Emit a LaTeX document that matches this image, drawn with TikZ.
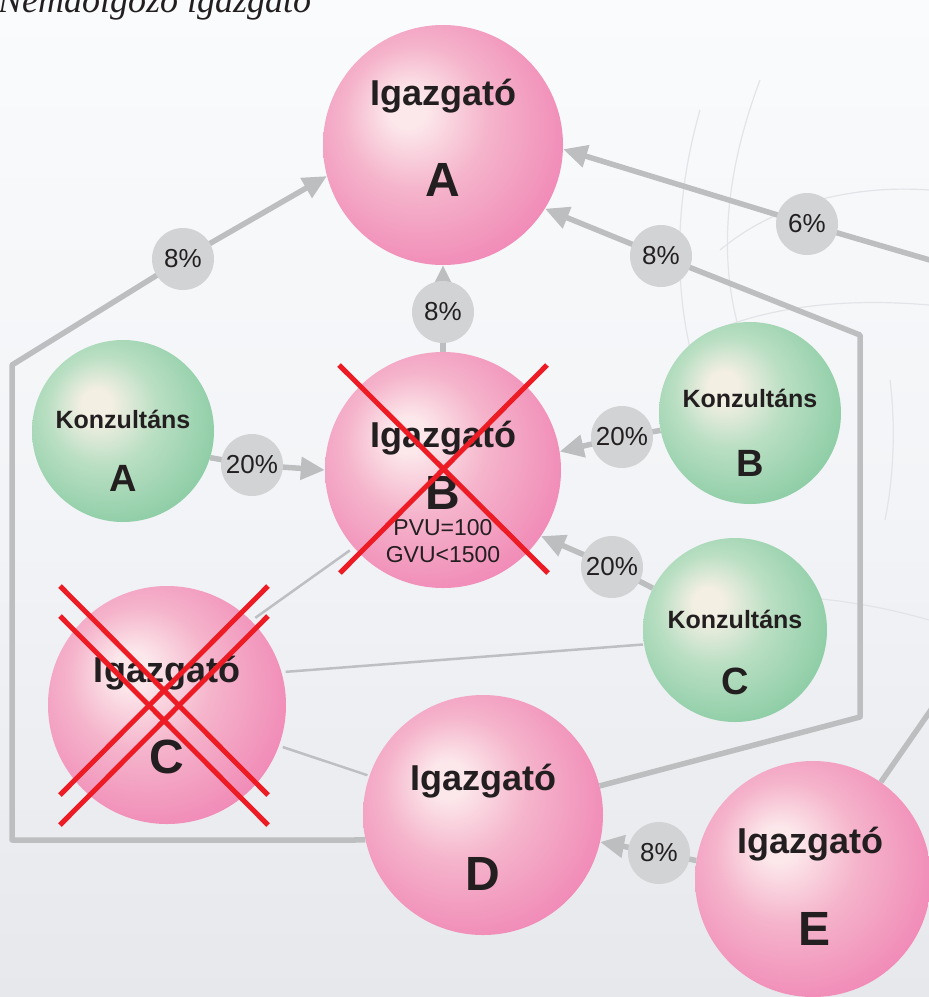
\documentclass[tikz,border=0pt]{standalone}
\usepackage{fontspec}
\setmainfont{Liberation Sans}
\newfontfamily\titlefont{Liberation Serif}
\usetikzlibrary{arrows.meta,calc}
\definecolor{conncol}{HTML}{BCBEC0}
\definecolor{thincol}{HTML}{BDBFC2}
\definecolor{lblcol}{HTML}{D1D3D4}
\definecolor{txtcol}{HTML}{231F20}
\definecolor{redx}{HTML}{ED1C24}
\definecolor{pkhi}{HTML}{FCE7EB}
\definecolor{pkmid}{HTML}{F5B4CB}
\definecolor{pkout}{HTML}{EF7CB0}
\definecolor{gnhi}{HTML}{F4EFE3}
\definecolor{gnmid}{HTML}{BADFC3}
\definecolor{gnout}{HTML}{7EC79C}
\definecolor{bgtop}{HTML}{FAFBFC}
\definecolor{bgmid}{HTML}{F2F4F7}
\definecolor{bgbot}{HTML}{E6E8EB}
\definecolor{sketch}{HTML}{E3E4E8}
\pgfdeclareradialshading{pinkball}{\pgfpoint{-8bp}{8bp}}{color(0bp)=(pkhi); color(4bp)=(pkhi); color(15bp)=(pkmid); color(35bp)=(pkout); color(50bp)=(pkout)}
\pgfdeclareradialshading{greenball}{\pgfpoint{-8bp}{8bp}}{color(0bp)=(gnhi); color(4bp)=(gnhi); color(15bp)=(gnmid); color(35bp)=(gnout); color(50bp)=(gnout)}
\pgfdeclarelayer{sky}
\pgfdeclarelayer{lines}
\pgfsetlayers{sky,lines,main}
\tikzset{
  pinkb/.style={circle, minimum size=240pt, inner sep=0pt, shading=pinkball},
  greenb/.style={circle, minimum size=182pt, inner sep=0pt, shading=greenball},
  wbig/.style={anchor=base, inner sep=0pt, text=txtcol, font=\fontsize{36}{36}\selectfont\bfseries},
  lbig/.style={anchor=base, inner sep=0pt, text=txtcol, font=\fontsize{48}{48}\selectfont\bfseries},
  wsm/.style={anchor=base, inner sep=0pt, text=txtcol, font=\fontsize{25}{25}\selectfont\bfseries},
  lsm/.style={anchor=base, inner sep=0pt, text=txtcol, font=\fontsize{38}{38}\selectfont\bfseries},
  vtxt/.style={anchor=base, inner sep=0pt, text=txtcol, font=\fontsize{23}{23}\selectfont},
  lbl/.style={circle, fill=lblcol, minimum size=62pt, inner sep=0pt, text=txtcol, font=\fontsize{26}{26}\selectfont},
  conn/.style={draw=conncol, line width=5.5pt, line join=round},
  arr/.style={-{Triangle[length=24pt,width=22pt]}},
  thin/.style={draw=thincol, line width=2.5pt},
  cross/.style={draw=redx, line width=5pt},
}
\begin{document}
\begin{tikzpicture}[x=1pt,y=-1pt]
\useasboundingbox (0,0) rectangle (929,997);
\clip (0,0) rectangle (929,997);
\begin{pgfonlayer}{sky}
\fill[top color=bgtop, bottom color=bgbot, middle color=bgmid] (0,0) rectangle (929,997);
\begin{scope}[draw=sketch, line width=1.2pt]
\draw (700,110) .. controls (660,250) and (680,390) .. (750,480);
\draw (760,80) .. controls (715,200) and (715,310) .. (770,400);
\draw (720,250) .. controls (780,200) and (860,185) .. (929,190);
\draw (715,330) .. controls (790,300) and (870,300) .. (929,305);
\draw (890,380) .. controls (895,420) and (895,470) .. (885,520);
\draw (700,600) .. controls (780,590) and (860,600) .. (929,620);
\end{scope}
\end{pgfonlayer}
% title (cut off at the top edge, as in the reference)
\node[anchor=base west, inner sep=0pt, text=txtcol, font=\titlefont\itshape\fontsize{36}{36}\selectfont] (title) at (-2,12) {Nemdolgozó igazgató};
% main balls
\node[pinkb] (A) at (443,145) {};
\node[wbig] (Aw) at ($(A)+(0,-40)$) {Igazgató};
\node[lbig] (Al) at ($(A)+(0,51)$) {A};
\node[pinkb, minimum size=236pt] (B) at (443,470) {};
\node[wbig] (Bw) at ($(B)+(0,-23)$) {Igazgató};
\node[lbig] (Bl) at ($(B)+(0,39)$) {B};
\node[vtxt] (Bv1) at ($(B)+(0,65)$) {PVU=100};
\node[vtxt] (Bv2) at ($(B)+(0,92)$) {GVU<1500};
\node[pinkb, minimum size=238pt] (C) at (167,705) {};
\node[wbig] (Cw) at ($(C)+(0,-23)$) {Igazgató};
\node[lbig] (Cl) at ($(C)+(0,68)$) {C};
\node[pinkb] (D) at (483,815) {};
\node[wbig] (Dw) at ($(D)+(0,-25)$) {Igazgató};
\node[lbig] (Dl) at ($(D)+(0,75)$) {D};
\node[pinkb, minimum size=236pt] (E) at (813,879) {};
\node[wbig] (Ew) at ($(E)+(-3,-26)$) {Igazgató};
\node[lbig] (El) at ($(E)+(2,66)$) {E};
\node[greenb] (KA) at (123,431) {};
\node[wsm] (KAw) at ($(KA)+(0,-3)$) {Konzultáns};
\node[lsm] (KAl) at ($(KA)+(0,60)$) {A};
\node[greenb] (KB) at (750,413) {};
\node[wsm] (KBw) at ($(KB)+(0,-6)$) {Konzultáns};
\node[lsm] (KBl) at ($(KB)+(0,63)$) {B};
\node[greenb, minimum size=184pt] (KC) at (735,630) {};
\node[wsm] (KCw) at ($(KC)+(0,-2)$) {Konzultáns};
\node[lsm] (KCl) at ($(KC)+(0,64)$) {C};
% labels
\node[lbl] (L1) at (183,259) {8\%};
\node[lbl] (L2) at (443,312) {8\%};
\node[lbl] (L3) at (661,256) {8\%};
\node[lbl] (L4) at (807,224) {6\%};
\node[lbl] (L5) at (252,465) {20\%};
\node[lbl] (L6) at (622,437) {20\%};
\node[lbl] (L7) at (612,567) {20\%};
\node[lbl] (L8) at (659,853) {8\%};
% bend points and free ends
\coordinate (lc1) at (12,840);
\coordinate (lc2) at (12,365);
\coordinate (rc1) at (860,717);
\coordinate (rc2) at (860,335);
\coordinate (re) at (940,263);
\coordinate (ee) at (960,668);
\begin{pgfonlayer}{lines}
\draw[conn,arr] (D.192) -- (lc1) -- (lc2) -- (L1.center) -- (A.195);
\draw[conn,arr] (B.north) -- (L2.center) -- (A.south);
\draw[conn,arr] (D.14) -- (rc1) -- (rc2) -- (L3.center) -- (A.328);
\draw[conn,arr] (re) -- (L4.center) -- (A.358);
\draw[conn,arr] (KA.-17) -- (L5.center) -- (B.180);
\draw[conn,arr] (KB.191) -- (L6.center) -- (B.9);
\draw[conn,arr] (KC.153) -- (L7.center) -- (B.-34);
\draw[conn,arr] (E.171) -- (L8.center) -- (D.-13);
\draw[conn] (E.55) -- (ee);
\draw[thin, shorten <=5pt, shorten >=5pt] (C.45) -- (B.221);
\draw[thin, shorten <=4pt, shorten >=1pt] (C.16) -- (KC.189);
\draw[thin, shorten <=4pt, shorten >=2pt] (C.-20) -- (D.161);
\end{pgfonlayer}
% red crosses
\draw[cross] ($(B)+(-104,-105)$) -- ($(B)+(105,103)$);
\draw[cross] ($(B)+(104,-105)$) -- ($(B)+(-103,103)$);
\draw[cross] ($(C)+(-107,-119)$) -- ($(C)+(101,90)$);
\draw[cross] ($(C)+(101,-119)$) -- ($(C)+(-107,90)$);
\draw[cross] ($(C)+(-107,-89)$) -- ($(C)+(101,120)$);
\draw[cross] ($(C)+(101,-89)$) -- ($(C)+(-107,120)$);
\end{tikzpicture}
\end{document}
